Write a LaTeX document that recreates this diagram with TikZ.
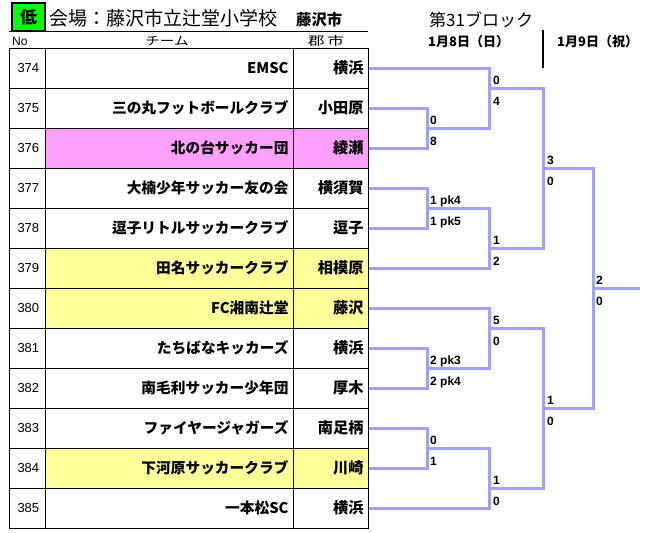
\documentclass[tikz,border=0pt]{standalone}
\usepackage{fontspec}
\setmainfont{Liberation Sans}
\newfontfamily\jp{Noto Sans CJK JP}
\definecolor{brc}{RGB}{160,160,255}
\definecolor{pinkc}{RGB}{255,160,255}
\definecolor{yelc}{RGB}{255,255,153}
\definecolor{grnc}{RGB}{0,255,0}
\tikzset{
  px/.style={x=1pt,y=-1pt},
  cell/.style={draw=black,line width=1pt,minimum height=40pt,inner ysep=0pt,anchor=west},
  nocell/.style={cell,inner xsep=8pt,text width=20pt,align=left,font=\fontsize{13}{13}\selectfont},
  teamcell/.style={cell,inner xsep=5pt,text width=238pt,align=right,font=\jp\bfseries\fontsize{14.7}{14.7}\selectfont},
  citycell/.style={cell,inner xsep=5pt,text width=65pt,align=right,font=\jp\bfseries\fontsize{15.2}{15.2}\selectfont},
  br/.style={draw=brc,line width=3pt,line join=miter},
  sc/.style={inner sep=0pt,font=\bfseries\fontsize{12}{12}\selectfont},
  scup/.style={sc,anchor=base west},
  hdr/.style={inner sep=0pt,font=\jp\fontsize{12}{12}\selectfont},
  dayhdr/.style={inner sep=0pt,anchor=west,font=\jp\bfseries\fontsize{13}{13}\selectfont},
}
\begin{document}
\begin{tikzpicture}[px]
\useasboundingbox (0,0) rectangle (649,533);
% header
\node[draw=black,line width=2pt,fill=grnc,minimum width=33pt,minimum height=28pt,inner sep=0pt,font=\jp\bfseries\fontsize{17}{17}\selectfont] (low) at (28.5,17) {低};
\node[anchor=west,inner sep=0pt,font=\jp\fontsize{19}{19}\selectfont] (title) at (49,18) {会場：藤沢市立辻堂小学校};
\node[anchor=west,inner sep=0pt,font=\jp\bfseries\fontsize{15.3}{15.3}\selectfont] (city) at (296,20) {藤沢市};
\draw[black,line width=1pt] (9,31) -- (368,31);
\node[hdr,anchor=west,font=\fontsize{12}{12}\selectfont] (hno) at (12,41) {No};
\node[hdr,xscale=1.22] (hteam) at (167,41) {チーム};
\node[hdr,xscale=1.4] (hcity) at (326,41) {郡\hspace{2pt}市};
\node[anchor=west,inner sep=0pt,font=\jp\fontsize{17}{17}\selectfont] (block) at (429,20) {第31ブロック};
\node[dayhdr] (day1) at (428,42) {1月8日（日）};
\node[dayhdr] (day2) at (557,42) {1月9日（祝）};
\draw[black,line width=2pt] (543,30) -- (543,68);
% table
\foreach \k/\no/\team/\city/\fc in {
  0/374/EMSC/横浜/white,
  1/375/三の丸フットボールクラブ/小田原/white,
  2/376/北の台サッカー団/綾瀬/pinkc,
  3/377/大楠少年サッカー友の会/横須賀/white,
  4/378/逗子リトルサッカークラブ/逗子/white,
  5/379/田名サッカークラブ/相模原/yelc,
  6/380/FC湘南辻堂/藤沢/yelc,
  7/381/たちばなキッカーズ/横浜/white,
  8/382/南毛利サッカー少年団/厚木/white,
  9/383/ファイヤージャガーズ/南足柄/white,
  10/384/下河原サッカークラブ/川崎/yelc,
  11/385/一本松SC/横浜/white}{
  \node[nocell] (n\no) at (9,68+40*\k) {\no};
  \node[teamcell,fill=\fc] (t\no) at (45,68+40*\k) {\team};
  \node[citycell,fill=\fc] (c\no) at (293,68+40*\k) {\city};
}
% junctions
\coordinate (m1) at (427,128);
\coordinate (m2) at (427,208);
\coordinate (m3) at (427,368);
\coordinate (m4) at (427,448);
\coordinate (q1) at (489,88);
\coordinate (q2) at (489,248);
\coordinate (q3) at (489,328);
\coordinate (q4) at (489,488);
\coordinate (s1) at (543,168);
\coordinate (s2) at (543,408);
\coordinate (f) at (593,288);
\coordinate (fe) at (640,288);
% bracket
\draw[br] (c375.east) -| (m1) |- (c376.east);
\draw[br] (c374.east) -| (q1) |- (m1);
\draw[br] (c377.east) -| (m2) |- (c378.east);
\draw[br] (m2) -| (q2) |- (c379.east);
\draw[br] (q1) -| (s1);
\draw[br] (q2) -| (s1);
\draw[br] (c381.east) -| (m3) |- (c382.east);
\draw[br] (c380.east) -| (q3) |- (m3);
\draw[br] (c383.east) -| (m4) |- (c384.east);
\draw[br] (m4) -| (q4) |- (c385.east);
\draw[br] (q3) -| (s2);
\draw[br] (q4) -| (s2);
\draw[br] (s1) -| (f);
\draw[br] (s2) -| (f);
\draw[br] (f) -- (fe);
% scores
\node[scup] (a1) at ([xshift=3pt,yshift=4pt]m1) {0};
\node[scup] (b1) at ([xshift=3pt,yshift=-17pt]m1) {8};
\node[scup] (a2) at ([xshift=3pt,yshift=4pt]m2) {1 pk4};
\node[scup] (b2) at ([xshift=3pt,yshift=-17pt]m2) {1 pk5};
\node[scup] (a3) at ([xshift=3pt,yshift=4pt]m3) {2 pk3};
\node[scup] (b3) at ([xshift=3pt,yshift=-17pt]m3) {2 pk4};
\node[scup] (a4) at ([xshift=3pt,yshift=4pt]m4) {0};
\node[scup] (b4) at ([xshift=3pt,yshift=-17pt]m4) {1};
\node[scup] (a5) at ([xshift=4pt,yshift=4pt]q1) {0};
\node[scup] (b5) at ([xshift=4pt,yshift=-17pt]q1) {4};
\node[scup] (a6) at ([xshift=4pt,yshift=4pt]q2) {1};
\node[scup] (b6) at ([xshift=4pt,yshift=-17pt]q2) {2};
\node[scup] (a7) at ([xshift=4pt,yshift=4pt]q3) {5};
\node[scup] (b7) at ([xshift=4pt,yshift=-17pt]q3) {0};
\node[scup] (a8) at ([xshift=4pt,yshift=4pt]q4) {1};
\node[scup] (b8) at ([xshift=4pt,yshift=-17pt]q4) {0};
\node[scup] (a9) at ([xshift=4pt,yshift=4pt]s1) {3};
\node[scup] (b9) at ([xshift=4pt,yshift=-17pt]s1) {0};
\node[scup] (a10) at ([xshift=4pt,yshift=4pt]s2) {1};
\node[scup] (b10) at ([xshift=4pt,yshift=-17pt]s2) {0};
\node[scup] (a11) at ([xshift=3pt,yshift=4pt]f) {2};
\node[scup] (b11) at ([xshift=3pt,yshift=-17pt]f) {0};
\end{tikzpicture}
\end{document}
